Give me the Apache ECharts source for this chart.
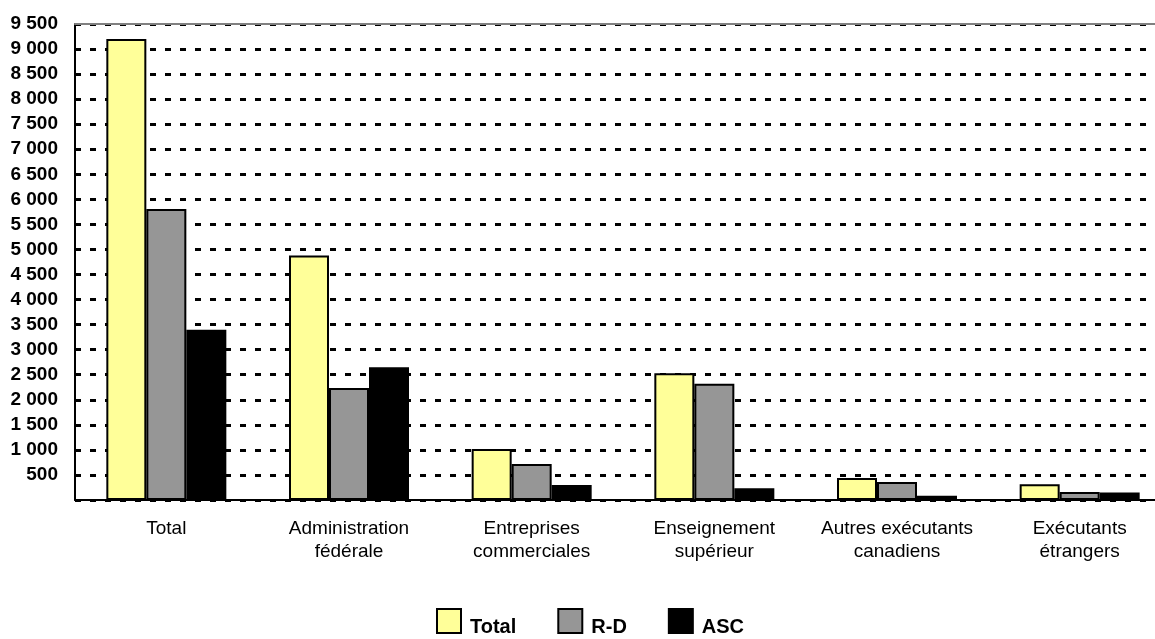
<!DOCTYPE html>
<html>
<head>
<meta charset="utf-8">
<script src="https://cdn.jsdelivr.net/npm/echarts@6/dist/echarts.min.js"></script>
<style>html,body{margin:0;padding:0;background:#fff;overflow:hidden;width:1155px;height:639px;}#c{width:1171px;height:639px;}</style>
</head>
<body>
<div id="c"></div>
<script>
const categories = ["Total", "Administration\nfédérale", "Entreprises\ncommerciales", "Enseignement\nsupérieur", "Autres exécutants\ncanadiens", "Exécutants\nétrangers"];
const seriesNames = ["Total", "R-D", "ASC"];
const totalValues = [9200, 4880, 1020, 2530, 440, 315];
const rdValues = [5810, 2235, 720, 2320, 360, 160];
const ascValues = [3400, 2650, 300, 235, 85, 150];
const yMin = 0, yMax = 9500, yStep = 500;

const FONT = "'Liberation Sans', Arial, sans-serif";
const chart = echarts.init(document.getElementById('c'), null, {renderer: 'canvas'});
const fmt = v => v === 0 ? '' : String(v).replace(/\B(?=(\d{3})+(?!\d))/g, ' ');
const mk = (name, data, color) => ({
  name, type: 'bar', data, barWidth: 40, barGap: '0%',
  itemStyle: {color, borderColor: '#000', borderWidth: 2}
});
chart.setOption({
  animation: false,
  backgroundColor: '#fff',
  grid: {left: 75, right: 0, top: 24, bottom: 139},
  legend: {
    left: 436, top: 608, padding: 0, itemGap: 41, itemWidth: 24, itemHeight: 24, icon: 'rect',
    formatter: '{t|{name}}',
    textStyle: {fontFamily: FONT, fontSize: 20, fontWeight: 'bold', color: '#000',
      rich: {t: {fontFamily: FONT, fontSize: 20, fontWeight: 'bold', color: '#000', padding: [12, 0, 0, 4]}}},
    data: seriesNames.map(n => ({name: n, itemStyle: {borderColor: '#000', borderWidth: 2}}))
  },
  xAxis: [{
    type: 'category', data: categories,
    axisLine: {lineStyle: {color: '#000', width: 2}},
    axisTick: {show: false},
    axisLabel: {fontFamily: FONT, fontSize: 19, color: '#000', margin: 17, lineHeight: 23, interval: 0}
  }, {
    type: 'category', data: categories, position: 'top',
    axisLine: {lineStyle: {color: '#808080', width: 2}},
    axisTick: {show: false}, axisLabel: {show: false}
  }],
  yAxis: {
    type: 'value', min: yMin, max: yMax, interval: yStep,
    axisLine: {show: true, lineStyle: {color: '#000', width: 2}},
    axisTick: {show: false},
    axisLabel: {fontFamily: FONT, fontSize: 19, fontWeight: 'bold', color: '#000', margin: 17, formatter: fmt},
    splitLine: {lineStyle: {color: '#000', width: 3, type: [6, 9]}}
  },
  series: [
    mk(seriesNames[0], totalValues, '#FFFF99'),
    mk(seriesNames[1], rdValues, '#969696'),
    mk(seriesNames[2], ascValues, '#000000')
  ]
});
</script>
</body>
</html>
